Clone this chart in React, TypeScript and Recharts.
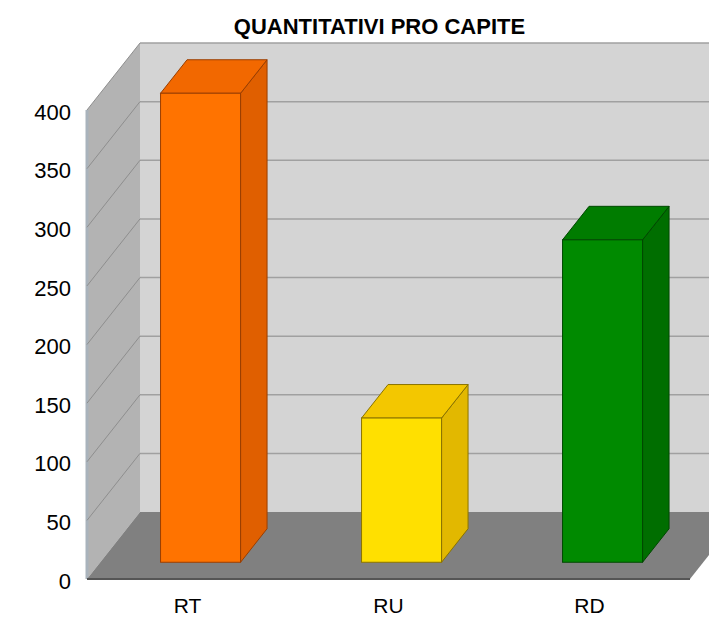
import React from 'react';
import { BarChart, Bar, XAxis, YAxis, CartesianGrid } from 'recharts';

const categories = ['RT', 'RU', 'RD'];
const values = [400, 123, 275];
const yTicks = [0, 50, 100, 150, 200, 250, 300, 350, 400];

const frontColors = ['#ff7300', '#ffe000', '#008a00'];
const topColors = ['#f26800', '#f3c700', '#007c00'];
const sideColors = ['#e05f00', '#e2b800', '#006e00'];
const edgeColors = ['#9a3e00', '#8a7300', '#004800'];

const data = categories.map((name, i) => ({ name, value: values[i] }));

// depth of the "3d" box: full wall depth and where the bars sit inside it
const DX = 53;
const DY = -67;
const FRONT = 0.25;
const BACK = 0.75;

const FONT = '"Liberation Sans", Arial, sans-serif';

const GridLine3D = (props: any) => {
  const { x1, y1, x2, index, x, y, width, height } = props;
  const left = x ?? x1;
  const w = width ?? x2 - x1;
  const top = y;
  const bottom = y + height;
  return (
    <g key={`g3d-${index}`}>
      {index === 0 && (
        <g>
          {/* back wall */}
          <polygon
            points={`${left + DX},${top + DY} ${left + w + DX},${top + DY} ${left + w + DX},${bottom + DY} ${left + DX},${bottom + DY}`}
            fill="#d4d4d4"
          />
          {/* left wall */}
          <polygon
            points={`${left},${top} ${left + DX},${top + DY} ${left + DX},${bottom + DY} ${left},${bottom}`}
            fill="#b3b3b3"
          />
          <line x1={left} y1={top} x2={left} y2={bottom} stroke="#a9b3bc" strokeWidth={3} />
          {/* floor */}
          <polygon
            points={`${left},${bottom} ${left + DX},${bottom + DY} ${left + w + DX},${bottom + DY} ${left + w},${bottom}`}
            fill="#808080"
          />
          <line x1={left} y1={bottom} x2={left + w} y2={bottom} stroke="#555555" strokeWidth={2} />
        </g>
      )}
      {y1 < bottom - 1 && (
        <g>
          <line x1={left + DX} y1={y1 + DY} x2={left + w + DX} y2={y1 + DY} stroke="#a0a0a0" strokeWidth={1.5} />
          <line x1={left} y1={y1} x2={left + DX} y2={y1 + DY} stroke="#8e8e8e" strokeWidth={1} />
        </g>
      )}
    </g>
  );
};

const Box3D = (props: any) => {
  const { x, y, width, height, index } = props;
  const fx = x + DX * FRONT;
  const fy = y + DY * FRONT;
  const bx = x + DX * BACK;
  const by = y + DY * BACK;
  const edge = edgeColors[index];
  return (
    <g>
      <polygon
        points={`${fx + width},${fy} ${bx + width},${by} ${bx + width},${by + height} ${fx + width},${fy + height}`}
        fill={sideColors[index]}
        stroke={edge}
        strokeWidth={1}
        strokeLinejoin="round"
      />
      <polygon
        points={`${fx},${fy} ${fx + width},${fy} ${bx + width},${by} ${bx},${by}`}
        fill={topColors[index]}
        stroke={edge}
        strokeWidth={1}
        strokeLinejoin="round"
      />
      <rect x={fx} y={fy} width={width} height={height} fill={frontColors[index]} stroke={edge} strokeWidth={1} />
    </g>
  );
};

const YTick = ({ x, y, payload }: any) => (
  <text x={x} y={y + 2} dy="0.35em" textAnchor="end" fontSize={22} fontFamily={FONT} fill="#000">
    {payload.value}
  </text>
);

const XTick = ({ x, y, payload }: any) => (
  <text x={x} y={y + 34} textAnchor="middle" fontSize={21} fontFamily={FONT} fill="#000">
    {payload.value}
  </text>
);

export default function App() {
  return (
    <div style={{ position: 'relative', width: 709, height: 618, background: '#fff', overflow: 'hidden' }}>
      <style>{'body{margin:0}'}</style>
      <div
        style={{
          position: 'absolute',
          left: 0,
          width: 759,
          top: 16,
          lineHeight: '22px',
          fontSize: 22,
          fontWeight: 'bold',
          fontFamily: FONT,
          textAlign: 'center',
          color: '#000'
        }}
      >
        QUANTITATIVI PRO CAPITE
      </div>
      <BarChart
        width={709}
        height={618}
        data={data}
        margin={{ top: 110, right: 19, bottom: 0, left: 0 }}
        barCategoryGap="30%"
        style={{ position: 'absolute', left: 0, top: 0 }}
      >
        <CartesianGrid horizontal={GridLine3D} vertical={false} />
        <XAxis
          dataKey="name"
          height={39}
          axisLine={false}
          tickLine={false}
          tickSize={0}
          tickMargin={0}
          tick={XTick}
        />
        <YAxis
          width={87}
          domain={[0, 400]}
          ticks={yTicks}
          interval={0}
          axisLine={false}
          tickLine={false}
          tickSize={0}
          tickMargin={16}
          tick={YTick}
        />
        <Bar dataKey="value" shape={Box3D} isAnimationActive={false} />
      </BarChart>
    </div>
  );
}
